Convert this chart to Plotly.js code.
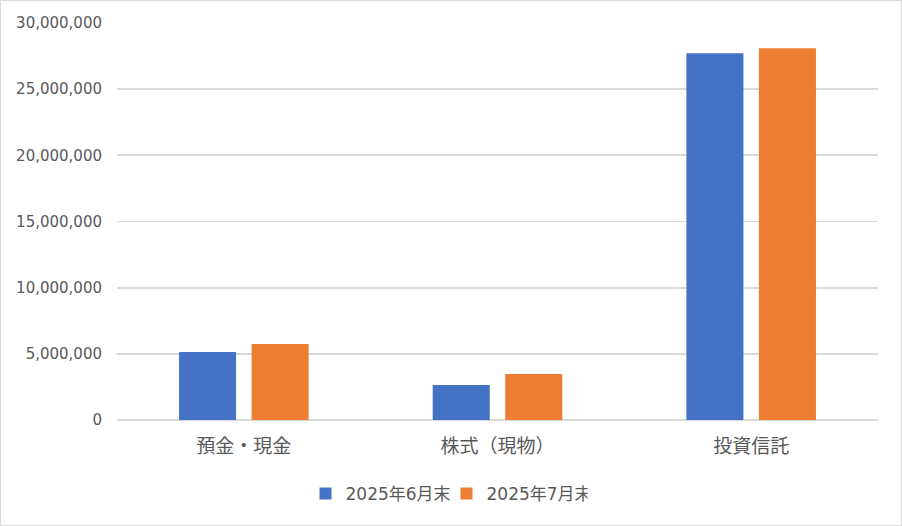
<!DOCTYPE html>
<html>
<head>
<meta charset="utf-8">
<script src="https://cdn.plot.ly/plotly-3.0.1.min.js"></script>
<style>
  html, body { margin: 0; padding: 0; background: #fff; }
  #wrap { position: relative; width: 902px; height: 526px; }
  #wrap::after {
    content: ""; position: absolute; left: 0; top: 0; right: 0; bottom: 0;
    border: 1px solid #D9D9D9; pointer-events: none;
  }
</style>
</head>
<body>
<div id="wrap"><div id="chart" style="width:902px;height:526px;"></div></div>
<script>
// 資産の内訳（月末残高）
var categories = ["預金・現金", "株式（現物）", "投資信託"];
var seriesNames = ["2025年6月末", "2025年7月末"];
var june = [5130000, 2640000, 27720000];
var july = [5740000, 3470000, 28100000];

var colors = ["#4472C4", "#ED7D31"];
var font = "'DejaVu Sans', 'Noto Sans CJK JP', sans-serif";
var cjkFont = "'Noto Sans CJK JP', sans-serif";

var traces = [june, july].map(function (vals, i) {
  return {
    x: categories,
    y: vals,
    name: seriesNames[i],
    type: 'bar',
    marker: { color: colors[i] },
    hoverinfo: 'x+y'
  };
});

var layout = {
  width: 902,
  height: 526,
  margin: { l: 117, r: 24, t: 23, b: 106 },
  paper_bgcolor: '#fff',
  plot_bgcolor: '#fff',
  font: { family: font, size: 15, color: '#595959' },
  barmode: 'group',
  bargap: 0.428,
  bargroupgap: 0.214,
  xaxis: {
    showgrid: false,
    showline: false,
    ticks: '',
    ticklabelstandoff: 13,
    tickfont: { family: cjkFont, size: 19, color: '#595959' }
  },
  yaxis: {
    range: [0, 30000000],
    dtick: 5000000,
    tickformat: ',d',
    gridcolor: '#D9D9D9',
    gridwidth: 1.7,
    zeroline: true,
    zerolinecolor: '#D9D9D9',
    zerolinewidth: 1.7,
    showline: false,
    ticks: '',
    ticklabelstandoff: 14,
    tickfont: { size: 15, color: '#595959' }
  },
  showlegend: true,
  legend: {
    orientation: 'h',
    x: 0.433,
    xanchor: 'center',
    y: -0.186,
    yanchor: 'middle',
    font: { size: 17, color: '#595959' },
    itemwidth: 30,
    entrywidth: 96,
    entrywidthmode: 'pixels'
  }
};

Plotly.newPlot('chart', traces, layout, { displayModeBar: false, staticPlot: true });
</script>
</body>
</html>
